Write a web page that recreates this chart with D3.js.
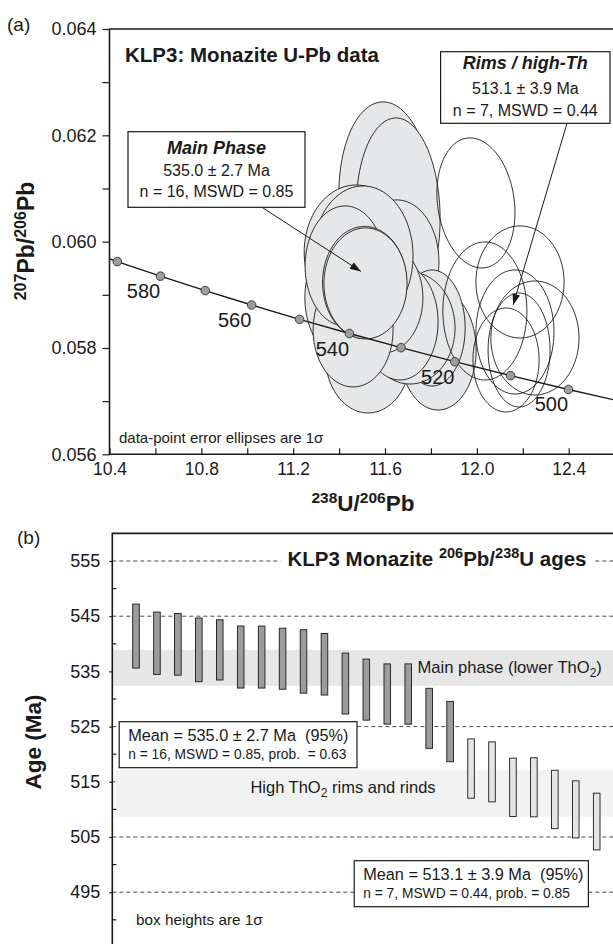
<!DOCTYPE html>
<html><head><meta charset="utf-8">
<script src="https://cdn.jsdelivr.net/npm/d3@7"></script>
<style>
html,body{margin:0;padding:0;background:#fff;}
svg{display:block;font-family:"Liberation Sans",Arial,Helvetica,sans-serif;}
</style></head><body>
<svg id="chart" width="613" height="944"></svg>
<script>
// ---------- (a) Tera-Wasserburg data: 238U/206Pb vs 207Pb/206Pb ----------
// Main phase analyses (1 sigma errors, rho = error correlation)
const mainU238 = [11.604, 11.657, 11.652, 11.526, 11.831, 11.805, 11.709, 11.665, 11.434, 11.591, 11.461, 11.474, 11.504, 11.426, 11.511, 11.515];
const mainPb   = [0.060785, 0.060521, 0.059618, 0.057868, 0.057962, 0.058376, 0.058376, 0.058489, 0.058941, 0.058941, 0.058339, 0.059806, 0.059731, 0.059543, 0.059232, 0.059214];
const mainSU   = [0.205, 0.183, 0.183, 0.187, 0.166, 0.144, 0.196, 0.166, 0.183, 0.174, 0.174, 0.226, 0.218, 0.174, 0.183, 0.181];
const mainSPb  = [0.001844, 0.001806, 0.001167, 0.001091, 0.001129, 0.001091, 0.001054, 0.001091, 0.001167, 0.001035, 0.001072, 0.00126, 0.001317, 0.001129, 0.001054, 0.001044];
const mainRho  = [-0.06, -0.05, 0, 0, 0, 0, 0, 0, 0, 0, 0, 0, 0, 0, 0, 0];

// Rim / high-Th analyses
const rimsU238 = [11.996, 12.188, 12.035, 12.166, 12.253, 12.127, 12.184];
const rimsPb   = [0.060728, 0.059242, 0.058696, 0.058301, 0.058188, 0.057774, 0.057962];
const rimsSU   = [0.170, 0.192, 0.183, 0.170, 0.192, 0.144, 0.135];
const rimsSPb  = [0.001223, 0.001054, 0.001298, 0.001167, 0.001072, 0.000978, 0.001072];
const rimsRho  = [-0.15, 0, 0, 0, 0, 0, 0];

// Concordia curve vertices (age in Ma)
const concAge = [600, 590, 580, 570, 560, 550, 540, 530, 520, 510, 500, 490, 480, 470];
const concU   = [10.252, 10.434, 10.622, 10.817, 11.019, 11.228, 11.445, 11.670, 11.904, 12.147, 12.399, 12.662, 12.936, 13.222];
const concPb  = [0.059901, 0.059625, 0.059351, 0.059079, 0.058808, 0.058539, 0.058272, 0.058006, 0.057742, 0.057480, 0.057219, 0.056960, 0.056703, 0.056447];
const concMarked  = [590, 580, 570, 560, 550, 540, 530, 520, 510, 500];
const concLabeled = [580, 560, 540, 520, 500];

const xTicksA = [10.4, 10.6, 10.8, 11.0, 11.2, 11.4, 11.6, 11.8, 12.0, 12.2, 12.4];
const xLabelsA = ["10.4", "10.8", "11.2", "11.6", "12.0", "12.4"];
const yTicksA = [0.056, 0.057, 0.058, 0.059, 0.060, 0.061, 0.062, 0.063, 0.064];
const yLabelsA = ["0.056", "0.058", "0.060", "0.062", "0.064"];

// ---------- (b) 206Pb/238U ages ----------
const ageMean  = [541.4, 540.1, 539.9, 538.9, 538.9, 537.6, 537.6, 537.3, 536.8, 536.3, 532.8, 531.7, 530.9, 530.9, 526.5, 524.1,
                  517.4, 516.8, 514.0, 514.0, 511.8, 510.0, 507.8];
const ageSigma = [5.8, 5.65, 5.58, 5.77, 5.46, 5.62, 5.62, 5.53, 5.74, 5.58, 5.52, 5.53, 5.46, 5.46, 5.44, 5.47,
                  5.37, 5.43, 5.29, 5.35, 5.29, 5.17, 5.14];
const mainCount = 16;
const yTicksB = [495, 505, 515, 525, 535, 545, 555];
const yMinorB = [490, 500, 510, 520, 530, 540, 550];
const mainBand = [532.4, 538.9];
const rimBand  = [508.7, 517.1];

const svg = d3.select("#chart");
const W = 613, H = 944;
const ink = "#1a1a1a";

// ================= Panel (a) =================
const xA = d3.scaleLinear().domain([10.4, 12.6]).range([109.5, 614.6]);
const yA = d3.scaleLinear().domain([0.056, 0.064]).range([454.3, 29]);

const defs = svg.append("defs");
defs.append("clipPath").attr("id", "clipA")
  .append("rect").attr("x", xA(10.4)).attr("y", yA(0.064))
  .attr("width", W - xA(10.4)).attr("height", yA(0.056) - yA(0.064));
defs.append("marker").attr("id", "arrow").attr("viewBox", "0 0 10 10")
  .attr("refX", 10).attr("refY", 5).attr("markerWidth", 11).attr("markerHeight", 11)
  .attr("markerUnits", "userSpaceOnUse").attr("orient", "auto")
  .append("path").attr("d", "M0,1.5 L10,5 L0,8.5 Z").attr("fill", ink);

const plotA = svg.append("g").attr("clip-path", "url(#clipA)");

function ellipsePath(cx, cy, sx, sy, rho) {
  const k = Math.sqrt(1 - rho * rho);
  const pts = d3.range(120).map(i => {
    const t = i / 120 * 2 * Math.PI, c = Math.cos(t), s = Math.sin(t);
    return [xA(cx + sx * c), yA(cy + sy * (rho * c + k * s))];
  });
  return d3.line().curve(d3.curveLinearClosed)(pts);
}

plotA.append("g").selectAll("path").data(d3.range(mainU238.length)).join("path")
  .attr("d", i => ellipsePath(mainU238[i], mainPb[i], mainSU[i], mainSPb[i], mainRho[i]))
  .attr("fill", "#e6e7e9").attr("stroke", ink).attr("stroke-width", 0.9);

plotA.append("g").selectAll("path").data(d3.range(rimsU238.length)).join("path")
  .attr("d", i => ellipsePath(rimsU238[i], rimsPb[i], rimsSU[i], rimsSPb[i], rimsRho[i]))
  .attr("fill", "none").attr("stroke", ink).attr("stroke-width", 0.9);

// concordia
plotA.append("path")
  .attr("d", d3.line().curve(d3.curveCatmullRom).x((d, i) => xA(concU[i])).y((d, i) => yA(concPb[i]))(concAge))
  .attr("fill", "none").attr("stroke", ink).attr("stroke-width", 1.4);

const markIdx = concMarked.map(a => concAge.indexOf(a));
plotA.append("g").selectAll("circle").data(markIdx).join("circle")
  .attr("cx", i => xA(concU[i])).attr("cy", i => yA(concPb[i])).attr("r", 4.3)
  .attr("fill", "#9d9d9d").attr("stroke", "#333").attr("stroke-width", 0.9);

const labIdx = concLabeled.map(a => concAge.indexOf(a));
plotA.append("g").selectAll("text").data(labIdx).join("text")
  .attr("x", i => xA(concU[i]) - 17).attr("y", i => yA(concPb[i]) + 22)
  .attr("text-anchor", "middle").attr("font-size", 20).attr("fill", ink)
  .text(i => concAge[i]);

// axes for (a)
const axA = svg.append("g");
axA.append("g").attr("transform", `translate(${xA(10.4)},0)`)
  .call(d3.axisLeft(yA).tickValues(yTicksA).tickSize(7).tickPadding(6)
    .tickFormat(d => { const s = d.toFixed(3); return yLabelsA.includes(s) ? s : ""; }))
  .call(g => g.select(".domain").remove())
  .call(g => g.selectAll("line").attr("stroke", ink).attr("stroke-width", 1.2))
  .call(g => g.selectAll("text").attr("font-size", 18).attr("fill", ink).attr("font-family", null));

axA.append("g").attr("transform", `translate(0,${yA(0.056)})`)
  .call(d3.axisBottom(xA).tickValues(xTicksA).tickSize(-6).tickPadding(8)
    .tickFormat(d => { const s = d.toFixed(1); return xLabelsA.includes(s) ? s : ""; }))
  .call(g => g.select(".domain").remove())
  .call(g => g.selectAll("line").attr("stroke", ink).attr("stroke-width", 1.2))
  .call(g => g.selectAll("text").attr("font-size", 17.5).attr("fill", ink).attr("font-family", null));

// frame (top, left, bottom)
axA.append("path")
  .attr("d", `M${W},${yA(0.064)}H${xA(10.4)}V${yA(0.056)}H${W}`)
  .attr("fill", "none").attr("stroke", ink).attr("stroke-width", 1.6);

// axis titles
const yTitleA = svg.append("text").attr("transform", `translate(34,241) rotate(-90)`)
  .attr("text-anchor", "middle").attr("font-size", 23).attr("font-weight", "bold").attr("fill", ink);
yTitleA.append("tspan").attr("font-size", 16).attr("dy", -8).text("207");
yTitleA.append("tspan").attr("dy", 8).text("Pb/");
yTitleA.append("tspan").attr("font-size", 16).attr("dy", -8).text("206");
yTitleA.append("tspan").attr("dy", 8).text("Pb");

const xTitleA = svg.append("text").attr("x", 363).attr("y", 511)
  .attr("text-anchor", "middle").attr("font-size", 22.5).attr("font-weight", "bold").attr("fill", ink);
xTitleA.append("tspan").attr("font-size", 15.5).attr("dy", -8).text("238");
xTitleA.append("tspan").attr("dy", 8).text("U/");
xTitleA.append("tspan").attr("font-size", 15.5).attr("dy", -8).text("206");
xTitleA.append("tspan").attr("dy", 8).text("Pb");

svg.append("text").attr("x", 7).attr("y", 31).attr("font-size", 19).attr("fill", ink).text("(a)");
svg.append("text").attr("x", 125).attr("y", 62).attr("font-size", 20.5).attr("font-weight", "bold")
  .attr("fill", ink).text("KLP3: Monazite U-Pb data");
svg.append("text").attr("x", 119).attr("y", 443).attr("font-size", 15).attr("fill", ink)
  .text("data-point error ellipses are 1σ");

// annotation boxes with arrows
function noteBox(x0, y0, w, h, lines) {
  const g = svg.append("g");
  g.append("rect").attr("x", x0).attr("y", y0).attr("width", w).attr("height", h)
    .attr("fill", "#fff").attr("stroke", ink).attr("stroke-width", 1.2);
  lines.forEach(l => {
    g.append("text").attr("x", x0 + w / 2).attr("y", l.y).attr("text-anchor", "middle")
      .attr("font-size", l.size).attr("font-weight", l.bold ? "bold" : null)
      .attr("font-style", l.bold ? "italic" : null).attr("fill", ink).text(l.t);
  });
}
svg.append("line").attr("x1", 262).attr("y1", 207.3).attr("x2", xA(11.495)).attr("y2", yA(0.05944))
  .attr("stroke", ink).attr("stroke-width", 1).attr("marker-end", "url(#arrow)");
svg.append("line").attr("x1", 567).attr("y1", 123.3).attr("x2", xA(12.158)).attr("y2", yA(0.05881))
  .attr("stroke", ink).attr("stroke-width", 1).attr("marker-end", "url(#arrow)");

noteBox(128, 131.7, 177, 75.6, [
  { t: "Main Phase", y: 154, size: 18, bold: true },
  { t: "535.0 ± 2.7 Ma", y: 176, size: 16 },
  { t: "n = 16, MSWD = 0.85", y: 197, size: 16 }]);
noteBox(440.6, 51.7, 169.4, 71.6, [
  { t: "Rims / high-Th", y: 69, size: 18, bold: true },
  { t: "513.1 ± 3.9 Ma", y: 93.5, size: 16 },
  { t: "n = 7, MSWD = 0.44", y: 115.5, size: 16 }]);

// ================= Panel (b) =================
const xB = d3.scaleLinear().domain([1, 23]).range([136, 596.7]);
const yB = d3.scaleLinear().domain([495, 555]).range([892.2, 561]);
const axisXB = 112.3, topB = yB(560);

// dashed reference lines
svg.append("g").selectAll("line").data(yTicksB).join("line")
  .attr("x1", axisXB).attr("x2", W).attr("y1", d => yB(d)).attr("y2", d => yB(d))
  .attr("stroke", "#333").attr("stroke-width", 0.9).attr("stroke-dasharray", "4,3");

// group bands
svg.append("rect").attr("x", axisXB).attr("width", W - axisXB)
  .attr("y", yB(mainBand[1])).attr("height", yB(mainBand[0]) - yB(mainBand[1])).attr("fill", "#e6e6e7");
svg.append("rect").attr("x", axisXB + 3).attr("width", W - axisXB - 3)
  .attr("y", yB(rimBand[1])).attr("height", yB(rimBand[0]) - yB(rimBand[1])).attr("fill", "#f2f2f2");

// age boxes
svg.append("g").selectAll("rect").data(d3.range(ageMean.length)).join("rect")
  .attr("x", i => xB(i + 1) - 3.3).attr("width", 6.6)
  .attr("y", i => yB(ageMean[i] + ageSigma[i]))
  .attr("height", i => yB(ageMean[i] - ageSigma[i]) - yB(ageMean[i] + ageSigma[i]))
  .attr("fill", i => i < mainCount ? "#9c9c9c" : "#e4e4e4")
  .attr("stroke", ink).attr("stroke-width", 0.9);

// axis (b)
const axB = svg.append("g").attr("transform", `translate(${axisXB},0)`);
axB.call(d3.axisLeft(yB).tickValues(yTicksB).tickSize(3).tickPadding(9).tickFormat(d3.format("d")))
  .call(g => g.select(".domain").remove())
  .call(g => g.selectAll("line").attr("stroke", ink).attr("stroke-width", 1.2))
  .call(g => g.selectAll("text").attr("font-size", 18).attr("fill", ink).attr("font-family", null));
svg.append("g").selectAll("line").data(yMinorB).join("line")
  .attr("x1", axisXB).attr("x2", axisXB + 4).attr("y1", d => yB(d)).attr("y2", d => yB(d))
  .attr("stroke", ink).attr("stroke-width", 1.2);
svg.append("path").attr("d", `M${W},${topB}H${axisXB}V${H}`)
  .attr("fill", "none").attr("stroke", ink).attr("stroke-width", 1.6);

// title with white backing
const titleBg = svg.append("rect").attr("fill", "#fff");
const titleB = svg.append("text").attr("x", 437).attr("y", 566).attr("text-anchor", "middle")
  .attr("font-size", 20.5).attr("font-weight", "bold").attr("fill", ink);
titleB.append("tspan").text("KLP3 Monazite ");
titleB.append("tspan").attr("font-size", 14.5).attr("dy", -8).text("206");
titleB.append("tspan").attr("dy", 8).text("Pb/");
titleB.append("tspan").attr("font-size", 14.5).attr("dy", -8).text("238");
titleB.append("tspan").attr("dy", 8).text("U ages");
const tb = titleB.node().getBBox();
titleBg.attr("x", tb.x - 7).attr("y", tb.y).attr("width", tb.width + 14).attr("height", tb.height);

function subText(x, y, parts, size, anchor) {
  const t = svg.append("text").attr("x", x).attr("y", y).attr("font-size", size)
    .attr("fill", ink).attr("text-anchor", anchor || "start");
  parts.forEach(p => t.append("tspan").attr("dy", p.dy || 0).attr("font-size", p.size || null).text(p.t));
  return t;
}
subText(417.5, 673, [{ t: "Main phase (lower ThO" }, { t: "2", dy: 4, size: 12 }, { t: ")", dy: -4 }], 16.6);
subText(343, 793, [{ t: "High ThO" }, { t: "2", dy: 4, size: 12 }, { t: " rims and rinds", dy: -4 }], 16.5, "middle");

function meanBox(x0, y0, w, h, l1, l2) {
  svg.append("rect").attr("x", x0).attr("y", y0).attr("width", w).attr("height", h)
    .attr("fill", "#fff").attr("stroke", ink).attr("stroke-width", 1.2);
  svg.append("text").attr("x", x0 + 9).attr("y", y0 + 19).attr("font-size", 16.3).attr("fill", ink)
    .attr("xml:space", "preserve").text(l1);
  svg.append("text").attr("x", x0 + 9).attr("y", y0 + 37.5).attr("font-size", 13.8).attr("fill", ink)
    .attr("xml:space", "preserve").text(l2);
}
meanBox(119.2, 721.7, 237.8, 46, "Mean = 535.0 ± 2.7 Ma  (95%)", "n = 16, MSWD = 0.85, prob.  = 0.63");
meanBox(354.2, 860.7, 234.2, 46, "Mean = 513.1 ± 3.9 Ma  (95%)", "n = 7, MSWD = 0.44, prob. = 0.85");

svg.append("text").attr("x", 136).attr("y", 925).attr("font-size", 15.3).attr("fill", ink).text("box heights are 1σ");
svg.append("text").attr("x", 17).attr("y", 544).attr("font-size", 19).attr("fill", ink).text("(b)");
svg.append("text").attr("transform", "translate(41,742) rotate(-90)").attr("text-anchor", "middle")
  .attr("font-size", 22.5).attr("font-weight", "bold").attr("fill", ink).text("Age (Ma)");
</script>
</body></html>
